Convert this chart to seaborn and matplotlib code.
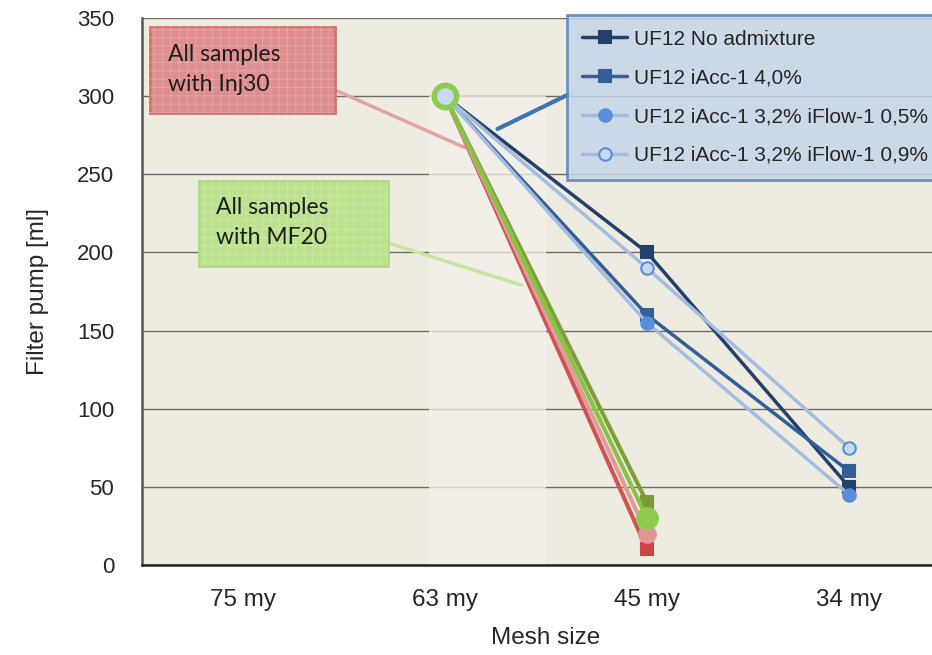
import numpy as np
import pandas as pd
import matplotlib
matplotlib.use("Agg")
import matplotlib.pyplot as plt
from matplotlib.patches import Rectangle
import seaborn as sns

# mesh sizes on the x axis
mesh = ["75 my", "63 my", "45 my", "34 my"]

# UF12 series (shown in legend)
uf_labels = ["UF12 No admixture", "UF12 iAcc-1 4,0%",
             "UF12 iAcc-1 3,2% iFlow-1 0,5%", "UF12 iAcc-1 3,2% iFlow-1 0,9%"]
uf_mesh = ["63 my", "45 my", "34 my"]
uf_no_adm = [300, 200, 50]
uf_iacc4 = [300, 160, 60]
uf_flow05 = [300, 155, 45]
uf_flow09 = [300, 190, 75]

# Inj30 / MF20 series (no legend entry)
short_mesh = ["63 my", "45 my"]
inj30_sq = [300, 10]
inj30_ci = [300, 20]
mf20_sq = [300, 40]
mf20_ci = [300, 30]

sns.set_style("white")
plt.rcParams["font.family"] = ["Liberation Sans", "DejaVu Sans"]
plt.rcParams["hatch.linewidth"] = 0.5

fig = plt.figure(figsize=(9.32, 6.55), dpi=100)
ax = fig.add_axes([142 / 932, 90 / 655, 808 / 932, 547 / 655])
ax.set_facecolor("#EEEBE1")

pos = {m: i for i, m in enumerate(mesh)}


def draw(xs, ys, color, marker, mfc, mec, ms, lw, label=None, z=3):
    df = pd.DataFrame({"x": [pos[m] for m in xs], "y": ys})
    sns.lineplot(data=df, x="x", y="y", ax=ax, color=color, lw=lw, marker=marker,
                 markersize=ms, markerfacecolor=mfc, markeredgecolor=mec,
                 markeredgewidth=1.5, label=label, legend=False, zorder=z)


def callout(x0, x1, y0, y1, fc, ec, hatch_c, text, tx, ty):
    ax.add_patch(Rectangle((x0, y0), x1 - x0, y1 - y0, fc=fc, ec=ec, lw=2, zorder=6))
    ax.add_patch(Rectangle((x0, y0), x1 - x0, y1 - y0, fill=False, ec=hatch_c,
                           lw=0, hatch="++", zorder=6))
    ax.text(tx, ty, text, fontsize=16.5, family=["Lato", "DejaVu Sans"], color="#1E1E1E",
            va="center", ha="left", linespacing=1.55, zorder=7)


# lighter band behind the 63 my -> 45 my drop
ax.fill_between([0.92, 1.5], 0, 300, color="#F3F1EA", alpha=0.75, lw=0, zorder=1)

# red / green groups
draw(short_mesh, inj30_sq, "#CF5555", "s", "#C94646", "#C94646", 9, 3, z=3)
draw(short_mesh, inj30_ci, "#E39A9A", "o", "#E39595", "#E39595", 12, 3, z=3)
draw(short_mesh, mf20_sq, "#7F9F3C", "s", "#7A9A3A", "#7A9A3A", 9, 3, z=3)
draw(short_mesh, mf20_ci, "#86C443", "o", "#8DCC4E", "#8DCC4E", 15, 3, z=3)

# UF12 group
draw(uf_mesh, uf_no_adm, "#24406A", "s", "#24406A", "#24406A", 8, 2.5, uf_labels[0], z=4)
draw(uf_mesh, uf_iacc4, "#335F96", "s", "#335F96", "#335F96", 8, 2.5, uf_labels[1], z=4)
draw(uf_mesh, uf_flow05, "#A3BCE0", "o", "#5A8EDB", "#5A8EDB", 9, 2.5, uf_labels[2], z=4)
draw(uf_mesh, uf_flow09, "#A3BCE0", "o", "#C6DAF5", "#5A8EDB", 9, 2.5, uf_labels[3], z=4)

# big green ring at 63 my
ax.plot([pos["63 my"]], [mf20_ci[0]], marker="o", ms=16, mfc="#C6DAF5",
        mec="#8DCC4E", mew=4, zorder=6, ls="none")

ax.set_xlim(-0.5, 3.5)
ax.set_ylim(0, 350)
ax.set_yticks(np.arange(0, 351, 50))
ax.set_xticks(range(len(mesh)))
ax.set_xticklabels(mesh)
ax.set_xticks([-0.5, 0.5, 1.5, 2.5], minor=True)
ax.tick_params(axis="x", which="major", length=0, labelsize=17.5, pad=17)
ax.tick_params(axis="x", which="minor", length=7, width=1.5, color="#A8A8A8", direction="out")
ax.tick_params(axis="y", length=8, width=1, color="#555555", direction="out",
               labelsize=16, pad=12)
ax.yaxis.grid(True, color="#6E6B64", lw=1)
ax.set_axisbelow(True)
for s in ["top", "right"]:
    ax.spines[s].set_visible(False)
ax.spines["left"].set_color("#555555")
ax.spines["left"].set_linewidth(1.8)
ax.spines["bottom"].set_color("#222222")
ax.spines["bottom"].set_linewidth(1.8)
ax.set_xlabel("Mesh size", fontsize=17.5, labelpad=12)
ax.set_ylabel("Filter pump [ml]", fontsize=17.5, labelpad=20)

# legend box
leg = ax.legend(loc="upper left", bbox_to_anchor=(567 / 932, 1 - 15 / 655),
                bbox_transform=fig.transFigure, fontsize=15, frameon=True,
                fancybox=False, handlelength=2.2, labelspacing=0.95,
                borderpad=0.7, handletextpad=0.3, borderaxespad=0)
leg.get_frame().set_facecolor("#C4D5EA")
leg.get_frame().set_edgecolor("#5B84B5")
leg.get_frame().set_linewidth(2)
leg.get_frame().set_alpha(0.85)
leg.set_zorder(7)

# connectors and callout boxes
ax.plot([0.455, 1.10], [304, 267], color="#E3A3A3", lw=2.5, zorder=2)
ax.plot([0.72, 1.38], [206, 179], color="#C8E4A0", lw=2.5, zorder=2)
ax.plot([1.26, 1.61], [279, 301], color="#3F75B5", lw=3, zorder=5)

callout(-0.46, 0.455, 289, 344, "#DE8E8E", "#D27474", "#E7AAAA",
        "All samples\nwith Inj30", -0.37, 317)
callout(-0.22, 0.72, 191, 246, "#BDE28F", "#AED983", "#CDEAAA",
        "All samples\nwith MF20", -0.134, 219)

fig.savefig("out.png", dpi=100, facecolor="white")
